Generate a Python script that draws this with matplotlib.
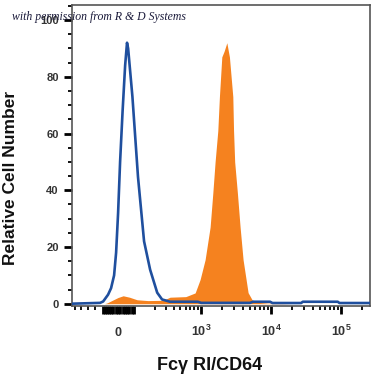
import numpy as np
import matplotlib
matplotlib.use('Agg')
import matplotlib.pyplot as plt

# isotype control (blue outline)
iso_x = [-300, -82, -67, -44, -30.5, -17.3, -8.6, 0, 8.6, 19.5, 30.6, 39, 44, 64, 92, 126, 165, 219, 263,
         350, 900, 1000, 5000, 5557, 9720, 10500, 27000, 28500, 90000, 95000, 260000]
iso_y = [0, 0.3, 0.8, 3.2, 5.5, 10, 18, 32, 50, 68, 84, 92, 90, 73, 44.7, 22, 12, 3.9, 1.5,
         0.7, 0.7, 0.3, 0.3, 0.7, 0.7, 0.25, 0.25, 0.7, 0.7, 0.25, 0.25]

# CD64 stained (orange fill)
cd64_x = [-300, -60, -48, -25, 0, 22, 50, 87, 150, 273, 350, 600, 820, 967, 1142, 1348,
          1474, 1589, 1738, 1833, 1983, 2140, 2340, 2548, 2849, 2920, 3030, 3314, 3622,
          3996, 4712, 5371, 6340, 9000, 20000, 260000]
cd64_y = [0, 0, 0.3, 1.2, 2.2, 2.8, 2.3, 1.4, 1.1, 1.2, 2.3, 2.5, 3.8, 8.5, 15.5, 27,
          39, 50, 61, 73, 87, 89, 92, 87, 73, 61, 50, 39, 27,
          15.5, 3.9, 1.4, 0.5, 0.2, 0, 0]

xtick_vals = [0, 1e3, 1e4, 1e5]
xtick_labels = [r'$\mathbf{0}$', r'$\mathbf{10^3}$', r'$\mathbf{10^4}$', r'$\mathbf{10^5}$']
ytick_vals = [0, 20, 40, 60, 80, 100]

C = 131.0
def fwd(x):
    return np.arcsinh(np.asarray(x) / C)
def inv(u):
    return C * np.sinh(np.asarray(u))

plt.rcParams['font.family'] = ['Liberation Sans', 'DejaVu Sans']
plt.rcParams['mathtext.fontset'] = 'custom'
plt.rcParams['mathtext.bf'] = 'Liberation Sans:bold'
plt.rcParams['mathtext.rm'] = 'Liberation Sans'

fig = plt.figure(figsize=(3.75, 3.75), dpi=100)
ax = fig.add_axes([72/375, 69/375, 298/375, 301/375])
ax.set_xscale('function', functions=(fwd, inv))

ax.fill_between(cd64_x, cd64_y, 0, color='#F5821F', lw=0, zorder=2)
ax.plot(iso_x, iso_y, color='#1F4F9E', lw=1.9, zorder=3, solid_joinstyle='round')

ax.set_xlim(-284, 259800)
ax.set_ylim(-0.8, 105.3)

# x ticks: dense linear region around zero + decades
dense = [v for v in range(-70, 71, 10) if v != 0]
major = sorted(dense + xtick_vals)
labels = [xtick_labels[xtick_vals.index(v)] if v in xtick_vals else '' for v in major]
ax.set_xticks(major)
ax.set_xticklabels(labels)
minor = [-250, -200, -150, -110]
for k in [100, 1000, 10000, 100000]:
    minor += [m * k for m in range(2, 10) if m * k < 259800]
ax.set_xticks(minor, minor=True)

ax.set_yticks(ytick_vals)
ax.set_yticks([v for v in range(0, 106, 5) if v % 20 != 0], minor=True)

ax.tick_params(axis='both', which='major', direction='out', length=5.5, width=2,
               color='black', labelsize=8, labelcolor='#333333')
ax.tick_params(axis='both', which='minor', direction='out', length=3, width=1.3, color='black')
ax.tick_params(axis='x', which='major', pad=16, labelsize=9)
ax.tick_params(axis='y', which='major', pad=4)
for t in ax.xaxis.get_major_ticks():
    t.label1.set_va('baseline')
for lab in ax.get_yticklabels():
    lab.set_fontweight('bold')

for s in ax.spines.values():
    s.set_color('#555555')
    s.set_linewidth(1.2)

fig.text(210/375, 1 - 365/375, 'Fcγ RI/CD64', ha='center', va='center',
         fontsize=13, fontweight='bold', color='#111111')
fig.text(11/375, 1 - 178/375, 'Relative Cell Number', ha='center', va='center',
         rotation=90, fontsize=12.5, fontweight='bold', color='#111111')
fig.text(12/375, 1 - 17/375, 'with permission from R & D Systems', ha='left', va='center',
         fontsize=8.5, fontstyle='italic', family='Liberation Serif', color='#1a1a3a')

fig.savefig('out.png', dpi=100)
